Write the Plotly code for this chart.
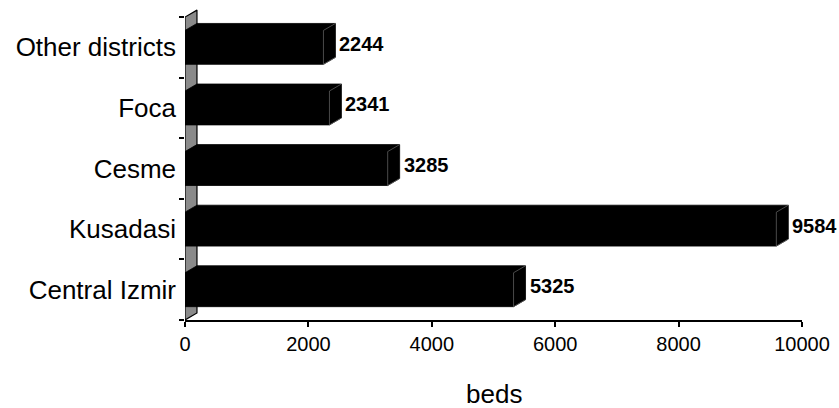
import plotly.graph_objects as go

categories = ["Central Izmir", "Kusadasi", "Cesme", "Foca", "Other districts"]
beds = [5325, 9584, 3285, 2341, 2244]
x_ticks = [0, 2000, 4000, 6000, 8000, 10000]

FONT = "Liberation Sans, Arial, sans-serif"
DX = 194      # depth offset in data units (x)
DY = 0.115    # depth offset in category units (y)
H = 0.56      # bar thickness
n = len(categories)

fig = go.Figure()

# floor / wall on the left
fig.add_trace(go.Scatter(
    x=[0, DX, DX, 0, 0],
    y=[-0.5, -0.5 + DY, n - 0.5 + DY, n - 0.5, -0.5],
    fill="toself", fillcolor="#8a8a8a", mode="lines",
    line=dict(color="black", width=1.2), hoverinfo="skip", showlegend=False))

for i, v in enumerate(beds):
    y0, y1 = i - H / 2, i + H / 2
    fig.add_trace(go.Scatter(
        x=[0, v, v + DX, v + DX, DX, 0, 0],
        y=[y0, y0, y0 + DY, y1 + DY, y1 + DY, y1, y0],
        fill="toself", fillcolor="black", mode="lines",
        line=dict(color="black", width=0.8), hoverinfo="skip", showlegend=False))
    fig.add_trace(go.Scatter(
        x=[v, v, v + DX, None, v, v + DX],
        y=[y0, y1, y1 + DY, None, y0, y0 + DY],
        mode="lines", line=dict(color="#6a6a6a", width=0.7),
        hoverinfo="skip", showlegend=False))
    fig.add_annotation(x=v + DX, y=i + DY / 2, text=str(v), showarrow=False,
                       xanchor="left", yanchor="middle", xshift=2,
                       font=dict(family=FONT, size=20, color="black", weight="bold"))

fig.add_annotation(xref="paper", yref="paper", x=0.5, y=0, yanchor="middle",
                   yshift=-74, text="beds", showarrow=False,
                   font=dict(family=FONT, size=26, color="black"))

fig.update_layout(
    width=839, height=408,
    margin=dict(l=185, r=37, t=8, b=88),
    plot_bgcolor="white", paper_bgcolor="white",
    font=dict(family=FONT, color="black"),
    showlegend=False,
    xaxis=dict(range=[0, 10000], tickvals=x_ticks, ticktext=[str(t) for t in x_ticks],
               ticks="outside", ticklen=5,
               tickwidth=2, tickcolor="black", showline=True, linewidth=2,
               linecolor="black", showgrid=False, zeroline=False,
               tickfont=dict(size=20, family=FONT)),
    yaxis=dict(range=[-0.5, n - 0.5 + DY + 0.035],
               tickvals=list(range(n)), ticktext=categories, ticks="",
               showgrid=False, zeroline=False, showline=False,
               tickfont=dict(size=26, family=FONT), ticklabelstandoff=8,
               minor=dict(tickvals=[k - 0.5 for k in range(n + 1)], ticks="outside",
                          ticklen=5, tickwidth=2, tickcolor="black", showgrid=False)),
)

fig.write_html("out.html",
               config={"displayModeBar": False},
               post_script="document.body.style.margin='0px';"
                           "document.body.style.overflow='hidden';")
